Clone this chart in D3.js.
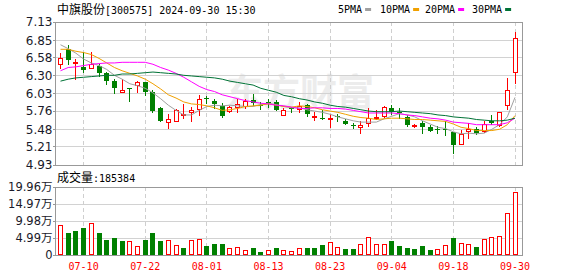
<!DOCTYPE html>
<html><head><meta charset="utf-8">
<script src="https://cdn.jsdelivr.net/npm/d3@7"></script>
<style>body{margin:0;background:#fff}svg{display:block}</style>
</head><body><svg id="c" width="578" height="276"></svg>
<script>
const stockName = "中旗股份", stockCode = "300575", stamp = "2024-09-30 15:30";
const dates = ["07-05","07-08","07-09","07-10","07-11","07-12","07-15","07-16","07-17","07-18","07-19","07-22","07-23","07-24","07-25","07-26","07-29","07-30","07-31",
"08-01","08-02","08-05","08-06","08-07","08-08","08-09","08-12","08-13","08-14","08-15","08-16","08-19","08-20","08-21","08-22","08-23","08-26","08-27","08-28","08-29","08-30",
"09-02","09-03","09-04","09-05","09-06","09-09","09-10","09-11","09-12","09-13","09-18","09-19","09-20","09-23","09-24","09-25","09-26","09-27","09-30"];
const open  = [6.48,6.71,6.51,6.44,6.43,6.45,6.34,6.22,6.06,6.12,6.16,6.21,6.05,5.80,5.59,5.61,5.70,5.74,5.79,5.96,5.92,5.83,5.76,5.82,5.84,5.93,5.86,5.90,5.90,5.70,5.80,5.79,5.85,5.67,5.66,5.64,5.68,5.61,5.54,5.52,5.57,5.66,5.69,5.80,5.75,5.67,5.53,5.57,5.52,5.48,5.49,5.44,5.26,5.45,5.49,5.46,5.61,5.54,5.85,6.36];
const close = [6.57,6.54,6.52,6.39,6.49,6.35,6.22,6.12,6.08,6.10,6.20,6.06,5.76,5.61,5.63,5.77,5.72,5.77,5.95,5.94,5.87,5.69,5.82,5.87,5.91,5.88,5.85,5.89,5.77,5.78,5.79,5.84,5.71,5.69,5.65,5.66,5.67,5.56,5.53,5.54,5.65,5.67,5.82,5.74,5.73,5.55,5.54,5.52,5.46,5.47,5.48,5.24,5.41,5.48,5.42,5.56,5.57,5.74,6.08,6.89];
const high  = [6.65,6.78,6.56,6.67,6.67,6.48,6.36,6.25,6.25,6.12,6.22,6.21,6.08,5.82,5.72,5.79,5.87,5.82,6.00,5.99,5.95,5.88,5.84,5.95,5.94,6.02,5.90,5.94,5.93,5.80,5.82,5.90,5.87,5.74,5.77,5.72,5.71,5.63,5.58,5.60,5.80,5.77,5.84,5.85,5.80,5.70,5.56,5.60,5.54,5.53,5.60,5.44,5.47,5.57,5.51,5.60,5.70,5.74,6.27,6.97];
const low   = [6.42,6.48,6.26,6.36,6.42,6.30,6.18,6.03,6.06,5.92,6.06,6.01,5.75,5.61,5.50,5.61,5.66,5.61,5.70,5.89,5.81,5.67,5.74,5.74,5.80,5.85,5.79,5.82,5.77,5.70,5.74,5.75,5.68,5.62,5.63,5.52,5.61,5.56,5.50,5.43,5.53,5.64,5.67,5.72,5.65,5.53,5.51,5.43,5.45,5.43,5.39,5.12,5.25,5.34,5.41,5.44,5.56,5.53,5.79,6.19];
const volume = [89400,65900,70600,79100,93200,65000,45200,50800,42400,42400,27300,45200,65000,42400,44300,30100,19800,44300,48000,25400,31100,31100,21700,24500,16000,19800,8500,14100,19800,16000,10400,21700,19800,19800,28200,38600,24500,16900,16900,33000,52700,33000,33000,42400,25400,21700,16900,25400,14100,18800,30100,50800,35800,33000,22600,47100,52700,55500,123300,185384];
const ma5  = [6.78,6.72,6.65,6.56,6.50,6.46,6.40,6.31,6.25,6.18,6.15,6.11,6.04,5.95,5.85,5.77,5.70,5.70,5.77,5.83,5.85,5.84,5.85,5.84,5.83,5.83,5.86,5.88,5.86,5.83,5.81,5.81,5.78,5.76,5.74,5.71,5.67,5.64,5.61,5.59,5.59,5.59,5.64,5.68,5.72,5.70,5.67,5.61,5.56,5.51,5.49,5.44,5.41,5.42,5.41,5.42,5.48,5.55,5.67,5.97];
const ma10 = [6.71,6.71,6.68,6.66,6.63,6.57,6.50,6.43,6.38,6.34,6.30,6.25,6.18,6.10,6.01,5.96,5.90,5.87,5.86,5.84,5.81,5.77,5.78,5.80,5.83,5.84,5.85,5.87,5.85,5.83,5.82,5.84,5.83,5.81,5.78,5.76,5.74,5.71,5.68,5.66,5.65,5.63,5.64,5.65,5.65,5.64,5.63,5.63,5.62,5.61,5.60,5.56,5.51,5.49,5.46,5.46,5.46,5.48,5.55,5.69];
const ma20 = [6.38,6.43,6.44,6.46,6.48,6.49,6.50,6.50,6.51,6.51,6.51,6.51,6.48,6.43,6.39,6.34,6.28,6.21,6.14,6.09,6.06,6.01,5.98,5.95,5.92,5.90,5.88,5.87,5.85,5.84,5.82,5.80,5.80,5.81,5.81,5.80,5.80,5.79,5.77,5.75,5.73,5.73,5.73,5.73,5.72,5.70,5.69,5.67,5.65,5.64,5.62,5.59,5.58,5.57,5.55,5.55,5.55,5.55,5.58,5.65];
const ma30 = [6.22,6.25,6.27,6.28,6.29,6.30,6.31,6.31,6.33,6.33,6.34,6.35,6.36,6.35,6.34,6.33,6.31,6.30,6.29,6.28,6.27,6.25,6.22,6.20,6.18,6.16,6.11,6.08,6.05,6.00,5.98,5.95,5.93,5.90,5.88,5.85,5.83,5.82,5.80,5.78,5.76,5.75,5.75,5.75,5.76,5.75,5.74,5.73,5.72,5.70,5.69,5.67,5.66,5.65,5.63,5.62,5.61,5.61,5.62,5.65];
const priceTicks = ["7.13","6.85","6.58","6.30","6.03","5.76","5.48","5.21","4.93"];
const volTicks = [0,49900,99800,149700,199600];
const volTickLabels = ["0","4.99万","9.98万","14.97万","19.96万"];
const dateTicks = ["07-10","07-22","08-01","08-13","08-23","09-04","09-18","09-30"];
const maNames = ["5PMA","10PMA","20PMA","30PMA"];
const maColors = ["#a0a0a0","#f0a000","#ff00ff","#007236"];
const maSeries = [ma5, ma10, ma20, ma30];

const svg = d3.select("#c");
const L = 55, R = 522;
const x = d3.scalePoint().domain(dates).range([60, 514.5]);
const y = d3.scaleLinear().domain([4.93, 7.13]).range([165, 22]);
const vy = d3.scaleLinear().domain([0, 199600]).range([255, 187]);
const UP = "#ff0000", DN = "#008000";
const MONO = "'DejaVu Sans Mono','Liberation Mono',monospace";
const CJK = "'Noto Sans CJK SC',sans-serif";
const px = v => Math.round(v) + 0.5;

// watermark
svg.append("text").attr("x", 226).attr("y", 106).attr("font-family", CJK)
  .attr("font-size", 37).attr("font-weight", "bold").attr("fill", "#ececec").text("东方财富");

// grids
function pane(yTop, yBot, hvals, yscale){
  const g = svg.append("g");
  g.selectAll(".h").data(hvals).join("line")
    .attr("x1", L).attr("x2", R).attr("y1", d => px(yscale(d)-0.5)).attr("y2", d => px(yscale(d)-0.5))
    .attr("stroke", "#d2d2d2");
  g.selectAll(".v").data(dateTicks).join("line")
    .attr("x1", d => px(x(d))).attr("x2", d => px(x(d))).attr("y1", yTop).attr("y2", yBot)
    .attr("stroke", "#cfcfcf").attr("stroke-dasharray", "4,3");
  g.append("rect").attr("x", L + 0.5).attr("y", yTop + 0.5).attr("width", R - L).attr("height", yBot - yTop)
    .attr("fill", "none").attr("stroke", "#999");
  g.selectAll(".t").data(hvals).join("line")
    .attr("x1", L - 2).attr("x2", L + 0.5).attr("y1", d => px(yscale(d)-0.5)).attr("y2", d => px(yscale(d)-0.5))
    .attr("stroke", "#999");
}
pane(22, 165, priceTicks.map(Number), y);
pane(187, 255, volTicks, vy);

// y labels
svg.selectAll(".pl").data(priceTicks).join("text")
  .attr("x", 52.5).attr("y", d => y(+d)).attr("dy", "0.36em").attr("text-anchor", "end")
  .attr("font-family", "'DejaVu Sans',sans-serif").attr("font-size", 12).attr("fill", "#1a1a2a").text(d => d);
svg.selectAll(".vl").data(volTicks).join("text")
  .attr("x", 52.5).attr("y", d => vy(d)).attr("dy", "0.36em").attr("text-anchor", "end")
  .attr("font-family", "'DejaVu Sans','Noto Sans CJK SC',sans-serif").attr("font-size", 11.5).attr("fill", "#1a1a2a")
  .text((d, i) => volTickLabels[i]);

// x labels
svg.selectAll(".xl").data(dateTicks).join("text")
  .attr("x", d => x(d) + 0.5).attr("y", 269.5).attr("text-anchor", "middle")
  .attr("font-family", MONO).attr("font-size", 10).attr("fill", "#ff0000").text(d => d);

// MA lines (behind candles? drawn after for visibility)
const idx = d3.range(dates.length);
const candles = svg.append("g");
idx.forEach(i => {
  const cx = Math.round(x(dates[i]));
  const up = close[i] >= open[i];
  const col = up ? UP : DN;
  candles.append("line").attr("x1", cx + 0.5).attr("x2", cx + 0.5)
    .attr("y1", Math.round(y(high[i]))).attr("y2", Math.round(y(low[i])) + 1).attr("stroke", col);
  const t = Math.round(y(Math.max(open[i], close[i])));
  const b = Math.round(y(Math.min(open[i], close[i])));
  if (up) {
    candles.append("rect").attr("x", cx - 1.5).attr("y", t + 0.5).attr("width", 4)
      .attr("height", Math.max(b - t, 1)).attr("fill", "#fff").attr("stroke", col);
  } else {
    candles.append("rect").attr("x", cx - 2).attr("y", t).attr("width", 5)
      .attr("height", Math.max(b - t, 1)).attr("fill", col);
  }
  // volume
  const vup = i === 0 ? up : close[i] >= close[i - 1];
  const vt = Math.round(vy(volume[i]));
  if (vup) {
    svg.append("rect").attr("x", cx - 1.5).attr("y", vt + 0.5).attr("width", 4)
      .attr("height", Math.max(254 - vt, 1)).attr("fill", "#fff").attr("stroke", UP);
  } else {
    svg.append("rect").attr("x", cx - 2).attr("y", vt).attr("width", 5)
      .attr("height", 255 - vt).attr("fill", DN);
  }
});

maSeries.forEach((s, k) => {
  svg.append("path").datum(s)
    .attr("d", d3.line().x((d, i) => x(dates[i]) + 0.5).y(d => y(d)))
    .attr("fill", "none").attr("stroke", maColors[k]).attr("stroke-width", 1);
});

// title
const tt = svg.append("text").attr("x", 57).attr("y", 13.5).attr("fill", "#000");
tt.append("tspan").attr("font-family", CJK).attr("font-size", 12).text(stockName);
tt.append("tspan").attr("font-family", MONO).attr("font-size", 10).text("[" + stockCode + "] " + stamp);

// legend
const legX = [338, 380, 425, 472];
maNames.forEach((n, k) => {
  const tx = svg.append("text").attr("x", legX[k]).attr("y", 12.5).attr("font-family", MONO)
    .attr("font-size", 10).attr("fill", "#000").text(n);
  const w = tx.node().getComputedTextLength();
  svg.append("rect").attr("x", legX[k] + w + 3).attr("y", 8).attr("width", 6).attr("height", 3).attr("fill", maColors[k]);
});

// volume title
const vt = svg.append("text").attr("x", 57).attr("y", 181.5).attr("fill", "#000");
vt.append("tspan").attr("font-family", CJK).attr("font-size", 12).text("成交量");
vt.append("tspan").attr("font-family", MONO).attr("font-size", 10).text(":" + volume[volume.length - 1]);
</script></body></html>
